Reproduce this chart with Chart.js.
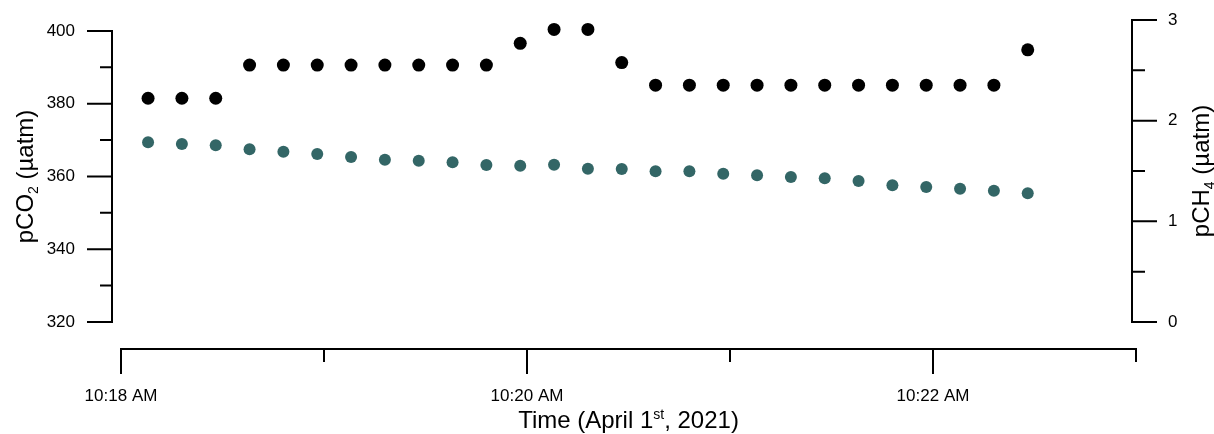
<!DOCTYPE html>
<html><head><meta charset="utf-8">
<script src="https://cdn.jsdelivr.net/npm/chart.js@4.4.1/dist/chart.umd.min.js"></script>
<style>html,body{margin:0;padding:0;background:#fff;}canvas{display:block}</style>
</head><body>
<canvas id="c" width="1214" height="434"></canvas>
<script>
// ---- data ----
const times = [
  '10:18:08','10:18:18','10:18:28','10:18:38','10:18:48','10:18:58',
  '10:19:08','10:19:18','10:19:28','10:19:38','10:19:48','10:19:58',
  '10:20:08','10:20:18','10:20:28','10:20:38','10:20:48','10:20:58',
  '10:21:08','10:21:18','10:21:28','10:21:38','10:21:48','10:21:58',
  '10:22:08','10:22:18','10:22:28'
];
const pco2 = [
  381.5,381.5,381.5,
  390.6,390.6,390.6,390.6,390.6,390.6,390.6,390.6,
  396.6,400.4,400.4,391.3,
  385.1,385.1,385.1,385.1,385.1,385.1,385.1,385.1,385.1,385.1,385.1,
  394.8
];
const pch4 = [
  1.785,1.768,1.755,1.715,1.692,1.669,1.639,1.612,1.602,1.586,1.560,1.553,1.563,1.523,
  1.520,1.497,1.497,1.473,1.457,1.440,1.427,1.401,1.358,1.341,1.324,1.304,1.278
];
const pco2Ticks = [320,340,360,380,400];
const pco2MinorTicks = [330,350,370,390];
const pco2Range = [320,403];
const pch4Ticks = [0,1,2,3];
const pch4MinorTicks = [0.5,1.5,2.5];
const timeTicks = ['10:18','10:20','10:22'];
const timeMinorTicks = ['10:19','10:21','10:23'];

// ---- helpers ----
function toSec(s){const p=s.split(':').map(Number);return p[0]*3600+p[1]*60+(p[2]||0);}
function fmtTime(v){const h=Math.floor(v/3600),m=Math.floor((v%3600)/60);
  const ap=h<12?'AM':'PM';const hh=((h+11)%12)+1;return hh+':'+String(m).padStart(2,'0')+' '+ap;}
const FAM = "'Liberation Sans', Arial, sans-serif";
const tickFont = {family:FAM, size:17};
const TITLE = 24;

function drawRich(ctx, parts, cx, baseY){
  const sz = p => (p.sub||p.sup) ? Math.round(TITLE*0.6) : TITLE;
  const widths = parts.map(p=>{ctx.font=sz(p)+'px '+FAM;return ctx.measureText(p.t).width;});
  const total = widths.reduce((a,b)=>a+b,0);
  let x = cx - total/2;
  ctx.textAlign='left'; ctx.textBaseline='alphabetic';
  parts.forEach((p,i)=>{
    ctx.font=sz(p)+'px '+FAM;
    const dy = p.sub?5:(p.sup?-9:0);
    ctx.fillText(p.t, x, baseY+dy);
    x += widths[i];
  });
}

function noPad(s){s.paddingTop=0;s.paddingBottom=0;s.paddingLeft=0;s.paddingRight=0;}

const axesPlugin = {
  id:'axesPlugin',
  afterDraw(chart){
    const {ctx, chartArea:a, scales:{x,y,y2}} = chart;
    ctx.save();
    ctx.strokeStyle='#000'; ctx.lineWidth=2; ctx.lineCap='butt';
    // left axis
    const lx = a.left - 9;
    const lTop = y.getPixelForValue(pco2Ticks[pco2Ticks.length-1]);
    const lBot = y.getPixelForValue(pco2Ticks[0]);
    ctx.beginPath();
    ctx.moveTo(lx, lTop-1); ctx.lineTo(lx, lBot+1);
    pco2Ticks.forEach(v=>{const p=y.getPixelForValue(v);ctx.moveTo(lx+1,p);ctx.lineTo(lx-25,p);});
    pco2MinorTicks.forEach(v=>{const p=y.getPixelForValue(v);ctx.moveTo(lx+1,p);ctx.lineTo(lx-12,p);});
    // right axis
    const rx = a.right - 4;
    const rTop = y2.getPixelForValue(pch4Ticks[pch4Ticks.length-1]);
    const rBot = y2.getPixelForValue(pch4Ticks[0]);
    ctx.moveTo(rx, rTop-1); ctx.lineTo(rx, rBot+1);
    pch4Ticks.forEach(v=>{const p=y2.getPixelForValue(v);ctx.moveTo(rx-1,p);ctx.lineTo(rx+25,p);});
    pch4MinorTicks.forEach(v=>{const p=y2.getPixelForValue(v);ctx.moveTo(rx-1,p);ctx.lineTo(rx+13,p);});
    // bottom axis
    const by = a.bottom + 27;
    const xL = x.getPixelForValue(toSec(timeTicks[0]));
    const xR = x.getPixelForValue(toSec(timeMinorTicks[timeMinorTicks.length-1]));
    ctx.moveTo(xL-1, by); ctx.lineTo(xR+1, by);
    timeTicks.forEach(t=>{const p=x.getPixelForValue(toSec(t));ctx.moveTo(p,by-1);ctx.lineTo(p,by+25);});
    timeMinorTicks.forEach(t=>{const p=x.getPixelForValue(toSec(t));ctx.moveTo(p,by-1);ctx.lineTo(p,by+13);});
    ctx.stroke();

    // titles
    ctx.fillStyle='#000';
    drawRich(ctx,[{t:'Time (April 1'},{t:'st',sup:true},{t:', 2021)'}],(a.left+a.right)/2, 428);
    ctx.save();
    ctx.translate(33,(lTop+lBot)/2); ctx.rotate(-Math.PI/2);
    drawRich(ctx,[{t:'pCO'},{t:'2',sub:true},{t:' (µatm)'}],0,0);
    ctx.restore();
    ctx.save();
    ctx.translate(1209,(rTop+rBot)/2); ctx.rotate(-Math.PI/2);
    drawRich(ctx,[{t:'pCH'},{t:'4',sub:true},{t:' (µatm)'}],0,0);
    ctx.restore();
    ctx.restore();
  }
};

const xs = times.map(toSec);
new Chart(document.getElementById('c'),{
  type:'scatter',
  data:{datasets:[
    {label:'pCO2', data:xs.map((t,i)=>({x:t,y:pco2[i]})), yAxisID:'y',
     backgroundColor:'#000', borderWidth:0, pointRadius:6.5, pointHoverRadius:6.5},
    {label:'pCH4', data:xs.map((t,i)=>({x:t,y:pch4[i]})), yAxisID:'y2',
     backgroundColor:'#336666', borderWidth:0, pointRadius:6, pointHoverRadius:6}
  ]},
  options:{
    responsive:false, animation:false, devicePixelRatio:1,
    layout:{padding:{top:20,left:0,right:0,bottom:0}},
    plugins:{legend:{display:false}, title:{display:false}, tooltip:{enabled:false}},
    scales:{
      x:{type:'linear', position:'bottom',
        min:toSec(timeTicks[0]), max:toSec(timeMinorTicks[timeMinorTicks.length-1]),
        afterBuildTicks:s=>{s.ticks=timeTicks.map(t=>({value:toSec(t)}));},
        ticks:{callback:v=>fmtTime(v), padding:64, autoSkip:false, maxRotation:0, minRotation:0, font:tickFont, color:'#000'},
        grid:{display:false, drawTicks:false}, border:{display:false},
        afterFit:s=>{s.height=112; noPad(s);}
      },
      y:{type:'linear', position:'left', min:pco2Range[0], max:pco2Range[1],
        afterBuildTicks:s=>{s.ticks=pco2Ticks.map(v=>({value:v}));},
        ticks:{padding:46, font:tickFont, color:'#000'},
        grid:{display:false, drawTicks:false}, border:{display:false},
        afterFit:s=>{s.width=121; noPad(s);}
      },
      y2:{type:'linear', position:'right', min:pch4Ticks[0], max:pch4Ticks[pch4Ticks.length-1],
        afterBuildTicks:s=>{s.ticks=pch4Ticks.map(v=>({value:v}));},
        ticks:{padding:32, font:tickFont, color:'#000'},
        grid:{display:false, drawTicks:false}, border:{display:false},
        afterFit:s=>{s.width=78; noPad(s);}
      }
    }
  },
  plugins:[axesPlugin]
});
</script>
</body></html>
